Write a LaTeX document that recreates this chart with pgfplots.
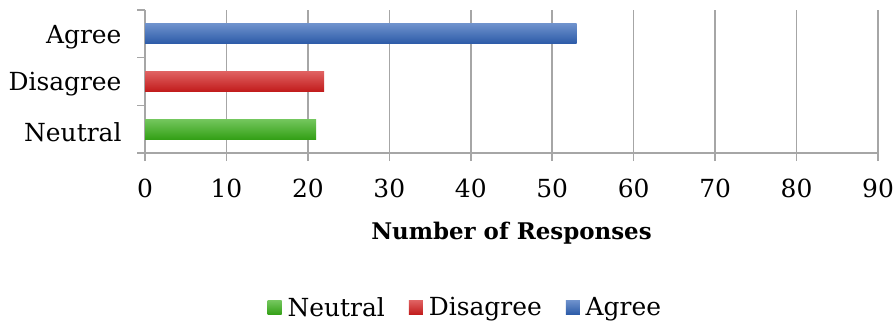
\documentclass[border=0pt]{standalone}
\usepackage{pgfplots}
\pgfplotsset{compat=1.18}
\usepackage{fontspec}
\setmainfont{DejaVu Serif}
\definecolor{agreeC}{HTML}{2F62B6}
\definecolor{disagreeC}{HTML}{D21E1E}
\definecolor{neutralC}{HTML}{38AE18}
\definecolor{gridC}{HTML}{A6A6A6}
\begin{document}
\begin{tikzpicture}[x=1bp,y=1bp]
\path[use as bounding box] (0,0) rectangle (895,324);
\begin{axis}[
  at={(145bp,171bp)}, anchor=south west,
  scale only axis, width=733bp, height=143bp,
  xmin=0, xmax=90, ymin=-0.5, ymax=2.5,
  xtick={0,10,...,90},
  ytick={0,1,2}, yticklabels={Neutral,Disagree,Agree},
  minor ytick={-0.5,0.5,1.5,2.5},
  axis x line*=bottom, axis y line*=left,
  axis line style={gridC, line width=1.6bp, -},
  x axis line style={-}, y axis line style={-},
  xmajorgrids, major grid style={gridC, line width=1.6bp},
  tick align=outside,
  xtick style={gridC, line width=1.6bp},
  every major y tick/.style={draw=none},
  every minor y tick/.style={gridC, line width=1.6bp},
  minor tick length=8bp,
  major tick length=8bp,
  /pgf/number format/assume math mode=true,
  tick label style={font=\fontsize{25}{29}\selectfont, text=black},
  yticklabel style={xshift=-12bp, yshift=-3bp},
  xticklabel style={yshift=-14bp},
  xlabel={\textbf{Number of Responses}},
  xlabel style={font=\fontsize{23}{27}\selectfont, yshift=-18bp},
  xbar, bar width=20bp, bar shift=0pt,
  legend style={draw=none, at={(0.437,-0.98)}, anchor=north,
    legend columns=3, font=\fontsize{25}{29}\selectfont,
    /tikz/every even column/.append style={column sep=22bp}},
  legend image code/.code={\draw[#1, draw=none] (0bp,-7bp) rectangle (14bp,7bp); \path (18bp,0bp);},
]
\addplot[draw=none, shading=axis, top color=neutralC!70!white, middle color=neutralC, bottom color=neutralC!92!black] coordinates {(21,0)};
\addlegendentry{Neutral}
\addplot[draw=none, shading=axis, top color=disagreeC!70!white, middle color=disagreeC, bottom color=disagreeC!92!black] coordinates {(22,1)};
\addlegendentry{Disagree}
\addplot[draw=none, shading=axis, top color=agreeC!70!white, middle color=agreeC, bottom color=agreeC!92!black] coordinates {(53,2)};
\addlegendentry{Agree}
\end{axis}
\end{tikzpicture}
\end{document}
